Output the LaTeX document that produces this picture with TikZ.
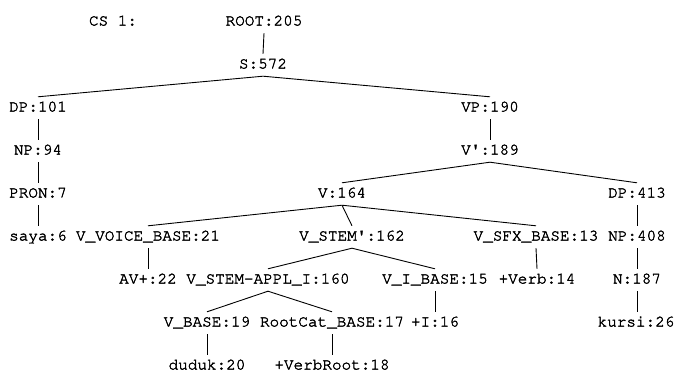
\documentclass[tikz,border=0pt]{standalone}
\usepackage[T1]{fontenc}
\newcommand\treefont{\fontfamily{pcr}\selectfont\special{pdf:literal direct 2 Tr 0.35 w}}
\begin{document}
\begin{tikzpicture}[x=1pt,y=-1pt,every node/.style={font=\fontsize{16}{18}\treefont,inner sep=0pt,text height=10pt,text depth=3pt,minimum height=22pt},branch/.style={line width=0.9pt,black}]
\useasboundingbox (0,0) rectangle (677,372);
\node (cs) at (113,22) {CS 1:};
\node (root) at (264,22) {ROOT:205};
\node (s) at (263,65) {S:572};
\node (dpa) at (38,108) {DP:101};\node (vp) at (490,108) {VP:190};
\node (npa) at (38,151) {NP:94};\node (vbar) at (490,151) {V\textquotesingle:189};
\node (pron) at (38,194) {PRON:7};\node (v) at (342,194) {V:164};\node (dpb) at (637,194) {DP:413};
\node (saya) at (38,237) {saya:6};\node (voice) at (148,237) {V\_VOICE\_BASE:21};
\node (stem) at (352,237) {V\_STEM\textquotesingle:162};\node (sfx) at (536,237) {V\_SFX\_BASE:13};\node (npb) at (637,237) {NP:408};
\node (av) at (148,280) {AV+:22};\node (appl) at (268,280) {V\_STEM-APPL\_I:160};\node (ibase) at (435,280) {V\_I\_BASE:15};
\node (verb) at (537,280) {+Verb:14};\node (n) at (637,280) {N:187};
\node (vbase) at (207,323) {V\_BASE:19};\node (rootcat) at (332,323) {RootCat\_BASE:17};\node (iplus) at (435,323) {+I:16};\node (kursi) at (636,323) {kursi:26};
\node (duduk) at (207,366) {duduk:20};\node (verbroot) at (332,366) {+VerbRoot:18};
\draw[branch] (root.south)--(s.north);
\draw[branch] (dpa.north)--(s.south)--(vp.north);
\draw[branch] (dpa.south)--(npa.north);\draw[branch] (npa.south)--(pron.north);\draw[branch] (pron.south)--(saya.north);
\draw[branch] (vp.south)--(vbar.north);
\draw[branch] (v.north)--(vbar.south)--(dpb.north);
\draw[branch] (voice.north)--(v.south)--(sfx.north);\draw[branch] (v.south)--(stem.north);
\draw[branch] (voice.south)--(av.north);
\draw[branch] (appl.north)--(stem.south)--(ibase.north);
\draw[branch] (sfx.south)--(verb.north);
\draw[branch] (dpb.south)--(npb.north);\draw[branch] (npb.south)--(n.north);\draw[branch] (n.south)--(kursi.north-|n.south);
\draw[branch] (vbase.north)--(appl.south)--(rootcat.north);
\draw[branch] (ibase.south)--(iplus.north-|ibase.south);
\draw[branch] (vbase.south)--(duduk.north);\draw[branch] (rootcat.south)--(verbroot.north);
\end{tikzpicture}
\end{document}
